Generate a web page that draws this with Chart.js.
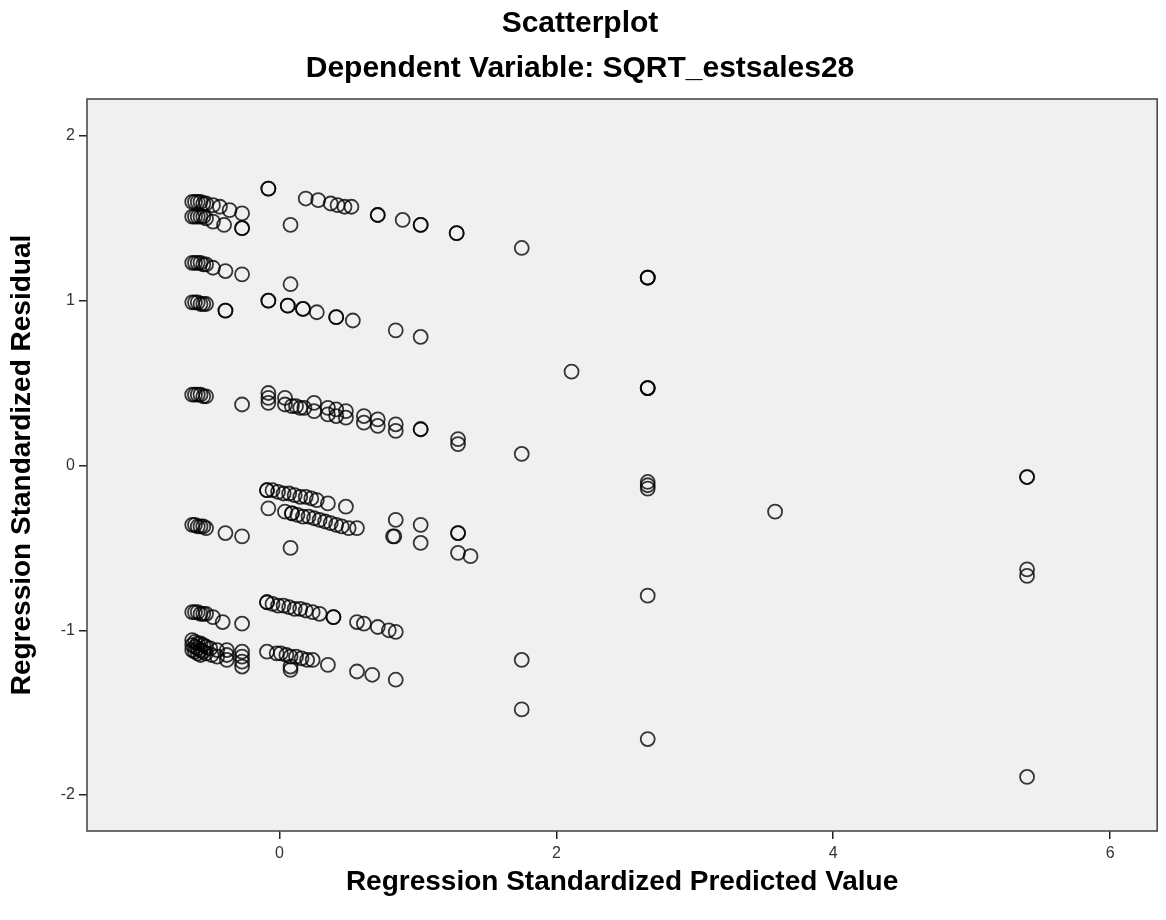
<!DOCTYPE html>
<html>
<head>
<meta charset="utf-8">
<script src="https://cdn.jsdelivr.net/npm/chart.js@4/dist/chart.umd.min.js"></script>
<style>
  html, body { margin: 0; padding: 0; background: #ffffff; }
  canvas { display: block; }
</style>
</head>
<body>
<canvas id="scatter" width="1166" height="920"></canvas>
<script>
// Axis ticks
const xTicks = [0, 2, 4, 6];
const yTicks = [-2, -1, 0, 1, 2];

// [standardized predicted value, standardized residual] pairs, grouped by residual band
const bandTop = [
  [-0.63, 1.60], [-0.61, 1.60], [-0.59, 1.60], [-0.57, 1.60], [-0.55, 1.59], [-0.53, 1.59],
  [-0.48, 1.58], [-0.43, 1.57], [-0.36, 1.55], [-0.27, 1.53],
  [-0.63, 1.51], [-0.61, 1.51], [-0.59, 1.51], [-0.57, 1.51], [-0.55, 1.51], [-0.53, 1.50],
  [-0.48, 1.48], [-0.40, 1.46], [-0.27, 1.44], [-0.27, 1.44],
  [-0.08, 1.68], [-0.08, 1.68], [0.08, 1.46],
  [0.19, 1.62], [0.28, 1.61], [0.37, 1.59], [0.42, 1.58], [0.47, 1.57], [0.52, 1.57],
  [0.71, 1.52], [0.71, 1.52], [0.89, 1.49], [1.02, 1.46], [1.02, 1.46],
  [1.28, 1.41], [1.28, 1.41], [1.75, 1.32],
  [2.66, 1.14], [2.66, 1.14], [2.66, 1.14]
];

const bandUpper = [
  [-0.63, 1.23], [-0.61, 1.23], [-0.59, 1.23], [-0.57, 1.23], [-0.55, 1.22], [-0.53, 1.22],
  [-0.48, 1.20], [-0.39, 1.18], [-0.27, 1.16], [0.08, 1.10],
  [-0.63, 0.99], [-0.61, 0.99], [-0.59, 0.99], [-0.57, 0.98], [-0.55, 0.98], [-0.53, 0.98],
  [-0.39, 0.94], [-0.39, 0.94],
  [-0.08, 1.00], [-0.08, 1.00], [0.06, 0.97], [0.06, 0.97], [0.17, 0.95], [0.17, 0.95],
  [0.27, 0.93], [0.41, 0.90], [0.41, 0.90], [0.53, 0.88],
  [0.84, 0.82], [1.02, 0.78]
];

const bandMiddle = [
  [-0.63, 0.43], [-0.61, 0.43], [-0.59, 0.43], [-0.57, 0.43], [-0.55, 0.42], [-0.53, 0.42],
  [-0.27, 0.37],
  [-0.08, 0.44], [-0.08, 0.41], [-0.08, 0.38], [0.04, 0.41], [0.04, 0.37],
  [0.09, 0.36], [0.12, 0.36], [0.15, 0.35], [0.18, 0.35],
  [0.25, 0.38], [0.25, 0.33], [0.35, 0.35], [0.35, 0.31], [0.41, 0.34], [0.41, 0.30],
  [0.48, 0.33], [0.48, 0.29], [0.61, 0.30], [0.61, 0.26], [0.71, 0.28], [0.71, 0.24],
  [0.84, 0.25], [0.84, 0.21], [1.02, 0.22], [1.02, 0.22],
  [1.29, 0.16], [1.29, 0.13], [1.75, 0.07], [2.11, 0.57],
  [2.66, 0.47], [2.66, 0.47], [2.66, 0.47]
];

const bandLowerMiddle = [
  [-0.09, -0.15], [-0.09, -0.15], [-0.05, -0.15], [-0.01, -0.16], [0.03, -0.17], [0.07, -0.17],
  [0.11, -0.18], [0.15, -0.19], [0.19, -0.19], [0.23, -0.20], [0.27, -0.21], [0.35, -0.23], [0.48, -0.25],
  [-0.08, -0.26], [0.04, -0.28], [0.09, -0.29], [0.09, -0.29], [0.13, -0.30], [0.17, -0.31],
  [0.21, -0.31], [0.25, -0.32], [0.29, -0.33], [0.33, -0.34], [0.37, -0.35], [0.41, -0.36],
  [0.45, -0.37], [0.50, -0.38], [0.56, -0.38], [0.08, -0.50],
  [-0.63, -0.36], [-0.61, -0.36], [-0.59, -0.37], [-0.57, -0.37], [-0.55, -0.37], [-0.53, -0.38],
  [-0.39, -0.41], [-0.27, -0.43],
  [0.84, -0.33], [0.82, -0.43], [0.83, -0.43], [1.02, -0.36], [1.02, -0.47],
  [1.29, -0.41], [1.29, -0.41], [1.29, -0.53], [1.38, -0.55],
  [2.66, -0.10], [2.66, -0.12], [2.66, -0.14], [3.58, -0.28],
  [5.40, -0.07], [5.40, -0.07], [5.40, -0.63], [5.40, -0.67], [2.66, -0.79]
];

const bandLow = [
  [-0.09, -0.83], [-0.09, -0.83], [-0.05, -0.84], [-0.01, -0.85], [0.03, -0.85], [0.07, -0.86],
  [0.11, -0.87], [0.15, -0.87], [0.19, -0.88], [0.24, -0.89], [0.29, -0.90], [0.39, -0.92], [0.39, -0.92],
  [0.56, -0.95], [0.61, -0.96], [0.71, -0.98], [0.79, -1.00], [0.84, -1.01],
  [-0.63, -0.89], [-0.61, -0.89], [-0.59, -0.89], [-0.57, -0.90], [-0.55, -0.90], [-0.53, -0.90],
  [-0.48, -0.92], [-0.41, -0.95], [-0.27, -0.96]
];

const bandBottom = [
  [-0.63, -1.06], [-0.63, -1.09], [-0.63, -1.12], [-0.61, -1.07], [-0.61, -1.10], [-0.61, -1.13],
  [-0.59, -1.08], [-0.59, -1.11], [-0.59, -1.14], [-0.57, -1.08], [-0.57, -1.12], [-0.57, -1.15],
  [-0.55, -1.09], [-0.55, -1.13], [-0.53, -1.10], [-0.53, -1.14], [-0.50, -1.11], [-0.49, -1.15],
  [-0.45, -1.12], [-0.45, -1.16],
  [-0.38, -1.12], [-0.38, -1.15], [-0.38, -1.18],
  [-0.27, -1.13], [-0.27, -1.16], [-0.27, -1.19], [-0.27, -1.22],
  [-0.09, -1.13], [-0.02, -1.14], [0.01, -1.14], [0.05, -1.15], [0.08, -1.16], [0.12, -1.16],
  [0.16, -1.17], [0.20, -1.18], [0.24, -1.18], [0.08, -1.22], [0.08, -1.24], [0.35, -1.21],
  [0.56, -1.25], [0.67, -1.27], [0.84, -1.30],
  [1.75, -1.18], [1.75, -1.48], [2.66, -1.66], [5.40, -1.89]
];

const residualPoints = [bandTop, bandUpper, bandMiddle, bandLowerMiddle, bandLow, bandBottom]
  .flat()
  .map(([x, y]) => ({ x, y }));

// Grey plot panel with a dark frame
const plotPanel = {
  id: 'plotPanel',
  beforeDatasetsDraw(chart) {
    const { ctx, chartArea: a } = chart;
    ctx.save();
    ctx.fillStyle = '#f0f0f0';
    ctx.fillRect(a.left, a.top, a.right - a.left, a.bottom - a.top);
    ctx.restore();
  },
  afterDraw(chart) {
    const { ctx, chartArea: a } = chart;
    ctx.save();
    ctx.strokeStyle = '#4a4a4a';
    ctx.lineWidth = 1.6;
    ctx.strokeRect(a.left, a.top, a.right - a.left, a.bottom - a.top);
    ctx.restore();
  }
};

const FONT = '"Liberation Sans", Arial, Helvetica, sans-serif';
Chart.defaults.font.family = FONT;

new Chart(document.getElementById('scatter'), {
  type: 'scatter',
  data: {
    datasets: [{
      data: residualPoints,
      pointStyle: 'circle',
      pointRadius: 7,
      pointHoverRadius: 7,
      pointBackgroundColor: 'rgba(0,0,0,0)',
      pointBorderColor: 'rgba(0,0,0,0.78)',
      pointBorderWidth: 1.8
    }]
  },
  options: {
    responsive: false,
    animation: false,
    layout: { padding: { left: 0, right: 6, top: 0, bottom: 0 } },
    plugins: {
      legend: { display: false },
      tooltip: { enabled: false },
      title: {
        display: true,
        text: 'Scatterplot',
        color: '#000',
        font: { size: 30, weight: 'bold' },
        padding: { top: 6, bottom: 9 }
      },
      subtitle: {
        display: true,
        text: 'Dependent Variable: SQRT_estsales28',
        color: '#000',
        font: { size: 30, weight: 'bold' },
        padding: { top: 0, bottom: 12 }
      }
    },
    scales: {
      x: {
        type: 'linear',
        min: -1.39,
        max: 6.34,
        afterBuildTicks: s => { s.ticks = xTicks.map(v => ({ value: v })); },
        afterFit: s => { s.height = 89; },
        border: { display: false },
        grid: { drawOnChartArea: false, drawTicks: true, tickLength: 8, color: '#222', lineWidth: 1.5 },
        ticks: { color: '#333', font: { size: 16 }, padding: 5, maxRotation: 0 },
        title: {
          display: true,
          text: 'Regression Standardized Predicted Value',
          color: '#000',
          font: { size: 28, weight: 'bold' },
          padding: { top: 0, bottom: 21 }
        }
      },
      y: {
        type: 'linear',
        min: -2.218,
        max: 2.224,
        afterBuildTicks: s => { s.ticks = yTicks.map(v => ({ value: v })); },
        afterFit: s => { s.width = 87; },
        border: { display: false },
        grid: { drawOnChartArea: false, drawTicks: true, tickLength: 8, color: '#222', lineWidth: 1.5 },
        ticks: { color: '#333', font: { size: 16 }, padding: 4 },
        title: {
          display: true,
          text: 'Regression Standardized Residual',
          color: '#000',
          font: { size: 28, weight: 'bold' },
          padding: { top: 5, bottom: 0 }
        }
      }
    }
  },
  plugins: [plotPanel]
});
</script>
</body>
</html>
